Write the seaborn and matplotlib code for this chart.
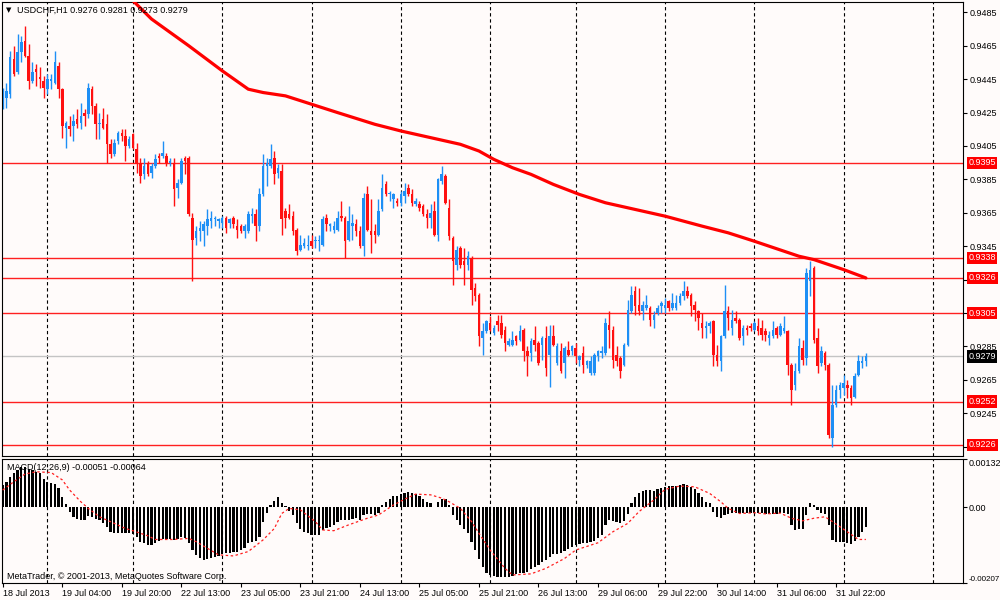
import numpy as np
import matplotlib
matplotlib.use('Agg')
import matplotlib.pyplot as plt
import matplotlib.transforms as mtransforms
import seaborn as sns

# USDCHF H1, prices in pips (1e-4), one entry per hourly bar
open_pips = [
    9435, 9434, 9436, 9457, 9449, 9461, 9468, 9459, 9444, 9451,
    9446, 9444, 9439, 9444, 9443, 9453, 9439, 9416, 9417, 9417,
    9421, 9419, 9425, 9424, 9439, 9429, 9418, 9421, 9418, 9406,
    9400, 9408, 9413, 9411, 9405, 9412, 9403, 9395, 9388, 9395,
    9389, 9393, 9399, 9399, 9399, 9395, 9395, 9380, 9383, 9398,
    9398, 9362, 9350, 9354, 9354, 9357, 9360, 9361, 9360, 9359,
    9362, 9359, 9362, 9357, 9357, 9354, 9354, 9363, 9364, 9357,
    9376, 9393, 9393, 9398, 9389, 9390, 9366, 9364, 9363, 9355,
    9343, 9345, 9345, 9348, 9348, 9348, 9346, 9362, 9357, 9355,
    9355, 9363, 9362, 9349, 9357, 9358, 9354, 9345, 9376, 9354,
    9354, 9352, 9367, 9382, 9376, 9373, 9372, 9371, 9375, 9380,
    9376, 9370, 9370, 9369, 9364, 9362, 9366, 9352, 9384, 9387,
    9368, 9350, 9334, 9344, 9336, 9334, 9338, 9320, 9316, 9290,
    9294, 9299, 9293, 9300, 9299, 9295, 9286, 9286, 9291, 9289,
    9295, 9282, 9281, 9289, 9287, 9286, 9290, 9280, 9291, 9275,
    9282, 9275, 9283, 9282, 9284, 9277, 9281, 9274, 9269, 9269,
    9279, 9281, 9281, 9298, 9295, 9280, 9278, 9274, 9286, 9306,
    9318, 9310, 9306, 9308, 9308, 9301, 9305, 9309, 9308, 9312,
    9308, 9308, 9311, 9315, 9318, 9316, 9310, 9306, 9299, 9296,
    9297, 9300, 9280, 9276, 9291, 9306, 9296, 9302, 9301, 9291,
    9296, 9297, 9295, 9297, 9296, 9294, 9290, 9291, 9296, 9292,
    9294, 9294, 9274, 9262, 9270, 9284, 9278, 9324, 9332, 9290,
    9275, 9281, 9274, 9230, 9250, 9259, 9260, 9262, 9260, 9255,
    9268, 9275, 9276]
high_pips = [
    9440, 9443, 9462, 9465, 9472, 9471, 9477, 9466, 9455, 9454,
    9452, 9447, 9448, 9448, 9462, 9455, 9440, 9420, 9423, 9424,
    9427, 9431, 9427, 9443, 9441, 9431, 9425, 9428, 9424, 9409,
    9409, 9414, 9415, 9415, 9411, 9413, 9407, 9398, 9398, 9396,
    9395, 9400, 9401, 9408, 9401, 9398, 9398, 9385, 9398, 9399,
    9399, 9365, 9357, 9360, 9360, 9367, 9366, 9363, 9362, 9363,
    9363, 9362, 9363, 9361, 9358, 9358, 9366, 9368, 9367, 9380,
    9400, 9398, 9406, 9402, 9394, 9394, 9368, 9370, 9366, 9356,
    9352, 9350, 9352, 9352, 9351, 9352, 9363, 9364, 9359, 9360,
    9366, 9372, 9363, 9369, 9364, 9361, 9357, 9377, 9381, 9373,
    9358, 9373, 9388, 9384, 9378, 9377, 9374, 9378, 9383, 9382,
    9379, 9374, 9372, 9370, 9367, 9370, 9372, 9386, 9393, 9388,
    9373, 9351, 9345, 9345, 9344, 9342, 9339, 9323, 9317, 9299,
    9301, 9303, 9298, 9304, 9304, 9297, 9290, 9294, 9292, 9298,
    9296, 9285, 9290, 9297, 9288, 9291, 9297, 9298, 9298, 9287,
    9287, 9285, 9288, 9286, 9287, 9280, 9285, 9277, 9279, 9281,
    9283, 9285, 9302, 9306, 9297, 9285, 9279, 9287, 9313, 9321,
    9321, 9320, 9312, 9316, 9309, 9306, 9310, 9312, 9314, 9313,
    9317, 9316, 9317, 9324, 9321, 9317, 9312, 9307, 9305, 9300,
    9300, 9301, 9286, 9292, 9322, 9309, 9307, 9306, 9302, 9298,
    9298, 9299, 9300, 9302, 9301, 9296, 9294, 9300, 9297, 9299,
    9303, 9295, 9275, 9275, 9290, 9289, 9332, 9336, 9333, 9296,
    9285, 9282, 9275, 9262, 9262, 9264, 9268, 9265, 9262, 9269,
    9280, 9279, 9281]
low_pips = [
    9427, 9428, 9434, 9447, 9448, 9455, 9458, 9439, 9443, 9441,
    9440, 9434, 9436, 9439, 9442, 9434, 9410, 9404, 9411, 9408,
    9416, 9415, 9417, 9422, 9424, 9409, 9409, 9415, 9395, 9398,
    9399, 9406, 9408, 9396, 9404, 9403, 9389, 9383, 9385, 9387,
    9386, 9392, 9395, 9398, 9393, 9393, 9369, 9374, 9382, 9388,
    9363, 9324, 9346, 9348, 9345, 9352, 9356, 9357, 9356, 9356,
    9353, 9356, 9356, 9350, 9353, 9350, 9353, 9359, 9348, 9354,
    9375, 9381, 9392, 9382, 9386, 9352, 9356, 9361, 9352, 9340,
    9342, 9344, 9343, 9344, 9344, 9342, 9345, 9354, 9354, 9353,
    9354, 9360, 9338, 9348, 9349, 9351, 9344, 9339, 9354, 9341,
    9347, 9351, 9366, 9375, 9372, 9368, 9369, 9369, 9371, 9375,
    9369, 9369, 9366, 9363, 9356, 9356, 9351, 9348, 9382, 9370,
    9349, 9322, 9331, 9332, 9322, 9331, 9310, 9312, 9285, 9280,
    9293, 9294, 9292, 9294, 9290, 9282, 9285, 9285, 9286, 9288,
    9276, 9267, 9276, 9282, 9274, 9277, 9267, 9261, 9285, 9274,
    9269, 9266, 9279, 9280, 9275, 9273, 9269, 9272, 9268, 9268,
    9276, 9278, 9280, 9284, 9272, 9273, 9266, 9273, 9285, 9305,
    9304, 9304, 9301, 9307, 9297, 9296, 9304, 9305, 9305, 9306,
    9307, 9307, 9310, 9313, 9314, 9303, 9300, 9295, 9290, 9290,
    9293, 9273, 9273, 9270, 9290, 9295, 9292, 9299, 9289, 9286,
    9292, 9294, 9294, 9292, 9289, 9288, 9286, 9290, 9290, 9291,
    9293, 9268, 9250, 9259, 9269, 9274, 9274, 9315, 9287, 9269,
    9273, 9271, 9230, 9225, 9249, 9254, 9256, 9254, 9250, 9254,
    9267, 9272, 9273]
close_pips = [
    9438, 9438, 9458, 9448, 9461, 9467, 9459, 9444, 9449, 9449,
    9445, 9440, 9445, 9445, 9455, 9439, 9417, 9419, 9415, 9420,
    9418, 9423, 9423, 9440, 9429, 9418, 9419, 9416, 9406, 9400,
    9407, 9413, 9411, 9405, 9409, 9404, 9394, 9387, 9393, 9388,
    9393, 9397, 9398, 9401, 9395, 9396, 9379, 9383, 9396, 9396,
    9364, 9349, 9354, 9356, 9358, 9361, 9362, 9362, 9361, 9362,
    9356, 9361, 9358, 9355, 9354, 9357, 9364, 9364, 9357, 9376,
    9393, 9395, 9397, 9388, 9392, 9361, 9362, 9362, 9354, 9342,
    9346, 9347, 9346, 9345, 9349, 9349, 9361, 9358, 9358, 9357,
    9362, 9362, 9348, 9360, 9359, 9354, 9345, 9374, 9355, 9352,
    9352, 9366, 9380, 9376, 9377, 9376, 9371, 9376, 9378, 9376,
    9371, 9372, 9368, 9364, 9362, 9365, 9352, 9385, 9388, 9371,
    9351, 9336, 9343, 9334, 9334, 9339, 9319, 9315, 9291, 9294,
    9300, 9295, 9296, 9298, 9292, 9287, 9288, 9289, 9288, 9294,
    9282, 9279, 9288, 9286, 9275, 9290, 9272, 9291, 9286, 9285,
    9270, 9284, 9280, 9285, 9279, 9279, 9274, 9276, 9276, 9280,
    9282, 9282, 9299, 9295, 9277, 9276, 9270, 9286, 9307, 9316,
    9309, 9306, 9310, 9310, 9301, 9304, 9308, 9311, 9310, 9308,
    9311, 9311, 9315, 9318, 9315, 9309, 9307, 9302, 9296, 9297,
    9299, 9280, 9276, 9291, 9306, 9302, 9301, 9300, 9290, 9296,
    9295, 9296, 9299, 9294, 9292, 9292, 9292, 9295, 9292, 9297,
    9296, 9274, 9259, 9270, 9285, 9277, 9329, 9331, 9289, 9273,
    9282, 9274, 9232, 9250, 9259, 9262, 9263, 9260, 9254, 9267,
    9276, 9276, 9279]

# moving average (thick red line), sampled at bar positions
ma_bar = [35, 40, 50, 59, 66, 70, 76, 83, 90, 100, 107, 115, 123, 128, 132, 137,
          142, 148, 155, 162, 170, 178, 188, 195, 202, 210, 214, 218, 222, 226, 232]
ma_pips = [9492, 9481, 9465, 9450, 9439, 9437, 9435, 9430, 9425, 9418, 9414, 9410,
           9406, 9402, 9397, 9392, 9388, 9382, 9376, 9371, 9367, 9363, 9357, 9353,
           9348, 9342, 9339, 9337, 9334, 9331, 9326]

# MACD(12,26,9) histogram, units of 1e-5
macd_main = [
    61, 70, 84, 93, 102, 109, 111, 106, 102, 97,
    93, 76, 70, 67, 65, 54, 29, 9, -12, -26,
    -32, -35, -36, -24, -26, -33, -36, -42, -55, -67,
    -71, -69, -69, -71, -71, -73, -82, -94, -98, -103,
    -103, -97, -91, -88, -88, -88, -89, -88, -82, -85,
    -98, -117, -130, -139, -144, -142, -139, -135, -133, -127,
    -126, -124, -121, -121, -118, -112, -98, -94, -91, -80,
    -39, -15, 6, 18, 27, 13, 4, -9, -21, -42,
    -60, -67, -71, -76, -76, -76, -62, -57, -53, -48,
    -39, -36, -36, -36, -33, -30, -36, -21, -18, -18,
    -21, -15, 6, 15, 24, 31, 31, 36, 40, 43,
    38, 36, 31, 24, 15, 13, 1, 15, 24, 24,
    6, -21, -35, -48, -60, -71, -94, -117, -142, -162,
    -179, -185, -188, -190, -191, -191, -190, -188, -182, -179,
    -179, -176, -170, -162, -158, -149, -144, -135, -128, -128,
    -124, -119, -115, -109, -103, -100, -98, -97, -94, -91,
    -85, -76, -48, -35, -37, -39, -44, -37, -17, 11,
    27, 38, 45, 47, 47, 45, 49, 52, 56, 58,
    58, 58, 61, 63, 61, 55, 49, 38, 29, 15,
    13, -12, -27, -30, -21, -18, -16, -15, -16, -16,
    -16, -16, -15, -15, -16, -18, -18, -18, -18, -16,
    -16, -18, -48, -62, -60, -60, -21, 13, 6, -7,
    -16, -18, -48, -89, -94, -94, -94, -97, -100, -91,
    -82, -67, -55]

# signal line (red dotted), sampled
sig_bar = [0, 3, 6, 9, 13, 16, 18, 21, 23, 26, 30, 33, 35, 39, 41, 46, 50, 52, 55,
           58, 62, 66, 70, 73, 75, 77, 80, 84, 86, 89, 93, 98, 101, 105, 108, 111,
           115, 118, 120, 123, 126, 128, 131, 135, 137, 142, 146, 151, 154, 160,
           164, 168, 171, 175, 178, 182, 186, 190, 193, 195, 198, 202, 205, 209,
           212, 215, 218, 221, 223, 227, 230, 232]
sig_val = [47, 70, 91, 97, 95, 75, 47, 15, -3, -26, -44, -58, -64, -78, -88, -88,
           -85, -94, -112, -130, -133, -121, -89, -58, -17, -3, -7, -39, -62, -64,
           -48, -30, -21, 6, 22, 36, 34, 25, 15, -3, -39, -71, -117, -167, -185,
           -182, -167, -140, -117, -97, -67, -44, -12, 20, 49, 58, 56, 38, 15, -3,
           -17, -15, -18, -16, -30, -37, -30, -26, -39, -67, -88, -88]

levels = [0.9395, 0.9338, 0.9326, 0.9305, 0.9252, 0.9226]
last_price = 0.9279
grid_bars = [12, 35, 59, 83, 107, 131, 154, 178, 202, 226, 250]
time_bars = [0, 16, 32, 48, 64, 80, 96, 112, 128, 144, 160, 176, 192, 208, 224]
time_labels = ['18 Jul 2013', '19 Jul 04:00', '19 Jul 20:00', '22 Jul 13:00',
               '23 Jul 05:00', '23 Jul 21:00', '24 Jul 13:00', '25 Jul 05:00',
               '25 Jul 21:00', '26 Jul 13:00', '29 Jul 06:00', '29 Jul 22:00',
               '30 Jul 14:00', '31 Jul 06:00', '31 Jul 22:00']
price_ticks = [0.9485, 0.9465, 0.9445, 0.9425, 0.9405, 0.9385, 0.9365, 0.9345,
               0.9325, 0.9305, 0.9285, 0.9265, 0.9245, 0.9225]
hidden_ticks = [0.9325, 0.9305, 0.9225]

BG = '#fffbfa'
BULL = '#1e8ff5'
BEAR = '#ff1010'
FS = 6.5

sns.set_style('white', {'axes.facecolor': BG, 'figure.facecolor': BG,
                        'axes.edgecolor': 'black', 'text.color': 'black',
                        'xtick.color': 'black', 'ytick.color': 'black'})
plt.rcParams['font.family'] = ['Liberation Sans', 'DejaVu Sans']

opens = np.array(open_pips) / 1e4
highs = np.array(high_pips) / 1e4
lows = np.array(low_pips) / 1e4
closes = np.array(close_pips) / 1e4
idx = np.arange(len(closes))

fig = plt.figure(figsize=(10, 6), dpi=100, facecolor=BG)
ax1 = fig.add_axes([0.002, 0.24, 0.961, 0.75667])
ax2 = fig.add_axes([0.002, 0.028333, 0.961, 0.20667])
xlim = (-0.19, 258.1)

# ---- price panel
for g in grid_bars:
    ax1.axvline(g, color='black', lw=0.8, ls=(0, (3, 2.5)), zorder=0.6)
ax1.axhline(last_price, color='#c4c4c4', lw=1.0, zorder=0.7)
for lv in levels:
    ax1.axhline(lv, color='#ff2020', lw=1.0, zorder=0.8)

colors = np.where(closes >= opens, BULL, BEAR)
ax1.vlines(idx, lows, highs, colors=colors, lw=1.0, zorder=2)
body = np.maximum(np.abs(closes - opens), 0.00005)
ax1.bar(idx, body, bottom=np.minimum(opens, closes), width=0.68,
        color=colors, lw=0, zorder=2.1)

sns.lineplot(x=ma_bar, y=np.array(ma_pips) / 1e4, ax=ax1, color='#ff0000',
             lw=2.3, legend=False, zorder=3)

ax1.set_xlim(*xlim)
ax1.set_ylim(0.92194, 0.94912)
ax1.set_xticks([])
ax1.yaxis.tick_right()
ax1.set_yticks(price_ticks)
ax1.set_yticklabels(['' if t in hidden_ticks else f'{t:.4f}' for t in price_ticks])
ax1.tick_params(axis='y', right=True, left=False, length=3, width=0.8,
                pad=1.5, labelsize=FS)
ax1.set_xlabel('')
ax1.set_ylabel('')

trans = mtransforms.blended_transform_factory(ax1.transAxes, ax1.transData)
for lv in levels:
    ax1.text(1.0055, lv, f'{lv:.4f}', transform=trans, color='white', fontsize=FS,
             va='center', ha='left', clip_on=False, zorder=5,
             bbox=dict(boxstyle='square,pad=0.18', fc='#ff0000', ec='none'))
ax1.text(1.0055, last_price, f'{last_price:.4f}', transform=trans, color='white',
         fontsize=FS, va='center', ha='left', clip_on=False, zorder=5,
         bbox=dict(boxstyle='square,pad=0.18', fc='black', ec='none'))

fig.text(0.006, 1 - 10 / 600, '\u25bc', fontsize=5, va='center', ha='left',
         family=['DejaVu Sans'])
fig.text(0.017, 1 - 10 / 600, 'USDCHF,H1 0.9276 0.9281 0.9273 0.9279',
         fontsize=FS, va='center', ha='left')

# ---- MACD panel
for g in grid_bars:
    ax2.axvline(g, color='black', lw=0.8, ls=(0, (3, 2.5)), zorder=0.6)
ax2.text(0.005, 0.935, 'MACD(12,26,9) -0.00051 -0.00064', transform=ax2.transAxes,
         fontsize=FS, va='center', ha='left', zorder=0.7)
ax2.text(0.005, 0.05, 'MetaTrader, \u00a9 2001-2013, MetaQuotes Software Corp.',
         transform=ax2.transAxes, fontsize=FS, va='center', ha='left', zorder=0.7)
ax2.bar(idx, np.array(macd_main) / 1e5, width=0.6, color='black', lw=0, zorder=1)
sns.lineplot(x=sig_bar, y=np.array(sig_val) / 1e5, ax=ax2, color='#ff2020', lw=0.9,
             linestyle=(0, (2, 2)), legend=False, zorder=3)

ax2.set_xlim(*xlim)
ax2.set_ylim(-0.00207, 0.00132)
ax2.yaxis.tick_right()
ax2.set_yticks([-0.00207, 0.0, 0.00132])
ax2.set_yticklabels(['-0.00207', '0.00', '0.00132'])
ax2.tick_params(axis='y', right=True, left=False, length=3, width=0.8,
                pad=1.0, labelsize=FS)
ylabs = ax2.get_yticklabels()
ylabs[0].set_va('bottom')
ylabs[0].set_fontsize(5.8)
ylabs[2].set_va('top')
ax2.set_xticks(time_bars)
ax2.set_xticklabels(time_labels, ha='left')
ax2.tick_params(axis='x', bottom=True, length=3, width=0.8, pad=1.5, labelsize=FS)
ax2.set_xlabel('')
ax2.set_ylabel('')

for ax in (ax1, ax2):
    for sp in ax.spines.values():
        sp.set_color('black')
        sp.set_linewidth(0.8)

fig.savefig('out.png', dpi=100, facecolor=BG)
